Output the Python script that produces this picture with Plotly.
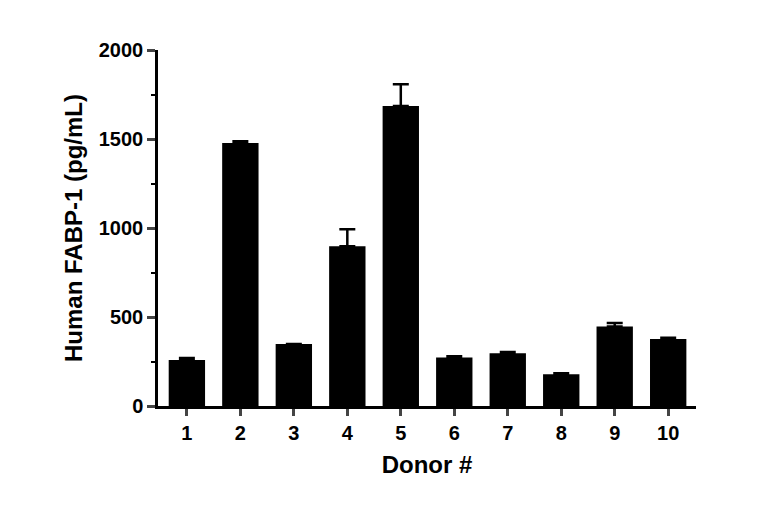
import plotly.graph_objects as go

donors = [1, 2, 3, 4, 5, 6, 7, 8, 9, 10]
values = [258, 1478, 348, 898, 1685, 272, 296, 178, 446, 376]
errors = [12, 10, 0, 95, 122, 8, 7, 6, 20, 7]

fig = go.Figure(go.Bar(
    x=donors, y=values, width=0.68,
    marker=dict(color="black", line=dict(width=0)),
    error_y=dict(type="data", array=errors, symmetric=False, arrayminus=[0]*10,
                 color="black", thickness=2.5, width=8),
))
tf = dict(family="Liberation Sans", size=20, color="black", weight="bold")
fig.update_layout(
    width=768, height=520, plot_bgcolor="white", paper_bgcolor="white",
    margin=dict(l=150, r=80, t=42, b=122), showlegend=False,
    font=dict(family="Liberation Sans", size=20, color="black"),
    xaxis=dict(range=[0.46, 10.52], tickvals=donors, ticktext=[str(d) for d in donors],
               showline=True, linecolor="black", linewidth=2.5, ticks="outside",
               ticklen=7, tickwidth=2.5, showgrid=False, zeroline=False, tickfont=tf,
               title=dict(text="<b>Donor #</b>", font=dict(size=24), standoff=14)),
    yaxis=dict(range=[0, 2000], tickvals=[0, 500, 1000, 1500, 2000],
               showline=True, linecolor="black", linewidth=2.5, ticks="outside",
               ticklen=8, tickwidth=2.5, showgrid=False, zeroline=False, tickfont=tf,
               minor=dict(tickvals=[250, 750, 1250, 1750], ticks="outside", ticklen=4, tickwidth=2, tickcolor="black"),
               title=dict(text="<b>Human FABP-1 (pg/mL)</b>", font=dict(size=24), standoff=10)),
)
fig.write_html("out.html")
